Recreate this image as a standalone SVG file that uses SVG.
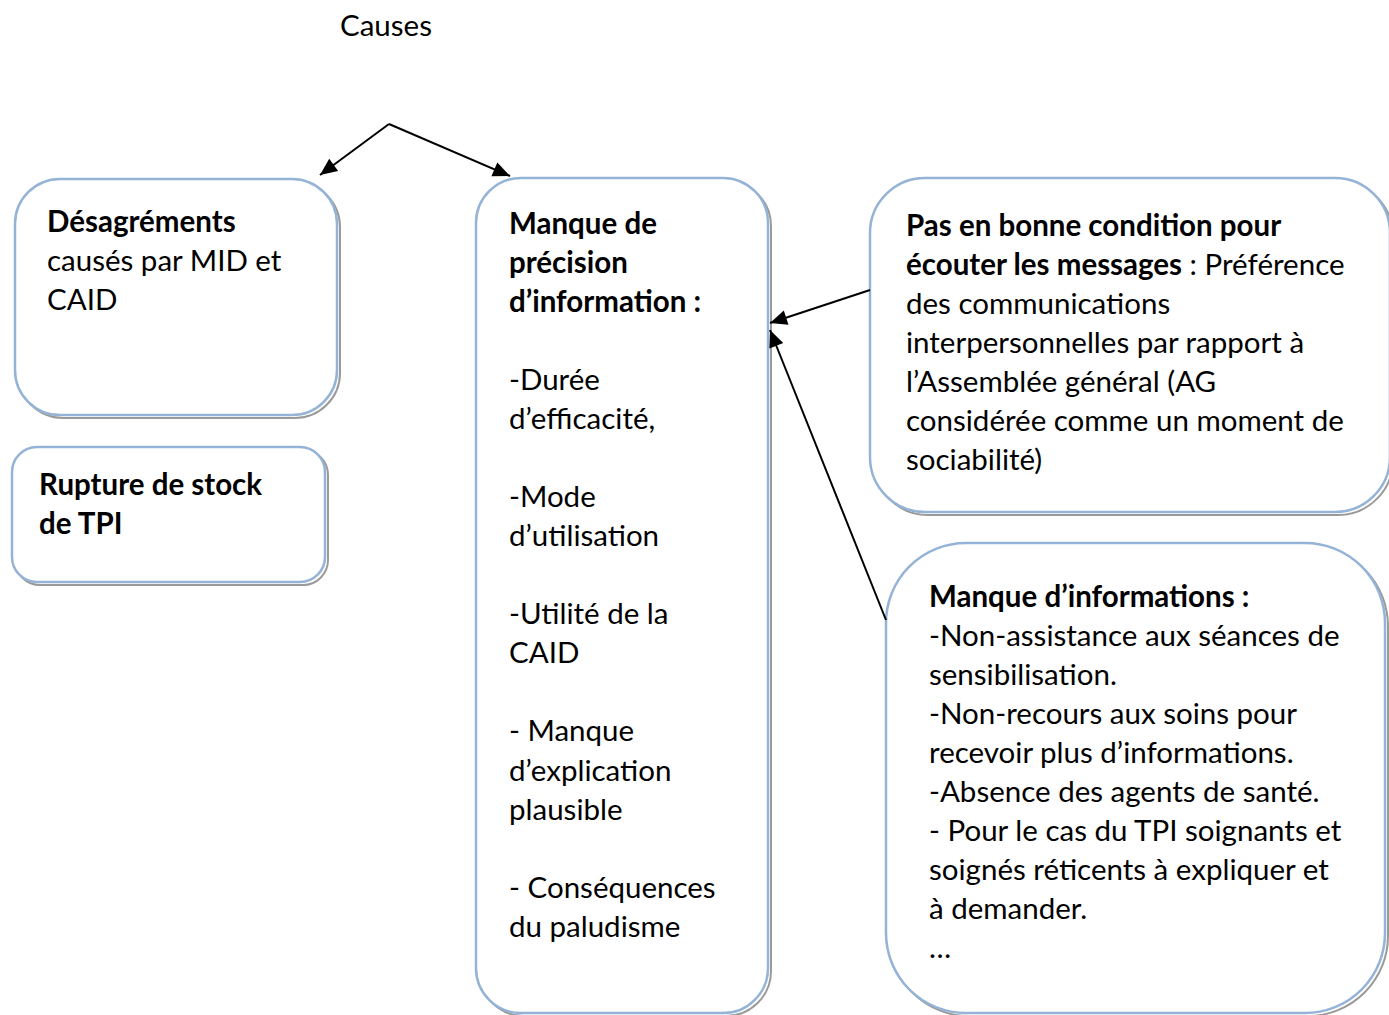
<svg xmlns="http://www.w3.org/2000/svg" width="1389" height="1015" viewBox="0 0 1389 1015">
<defs>
<style>
.box{fill:#fff;stroke:#95b3d7;stroke-width:2.5}
.sh{fill:none;stroke:#9a9a9a;stroke-width:2}
text{font-family:Lato,"Liberation Sans",sans-serif;font-size:29.5px;fill:#000}
.b{font-weight:bold}
.con{stroke:#000;stroke-width:2;fill:none;marker-end:url(#ah)}
</style>
<marker id="ah" markerUnits="userSpaceOnUse" markerWidth="1" markerHeight="1" refX="0" refY="0" orient="auto" overflow="visible">
<path d="M-17,-7.5 L0,0 L-17,7.5 z" fill="#000"/>
</marker>
</defs>
<rect width="1389" height="1015" fill="#fff"/>
<text x="340" y="36">Causes</text>

<g id="node-desagrements">
<rect class="sh" x="18" y="182" width="322" height="236" rx="45"/>
<rect class="box" x="15" y="179" width="322" height="236" rx="45"/>
<text x="47" y="232" class="b">Désagréments</text>
<text x="47" y="271">causés par MID et</text>
<text x="47" y="310">CAID</text>
</g>

<g id="node-rupture">
<rect class="sh" x="15" y="450" width="313" height="135" rx="25"/>
<rect class="box" x="12" y="447" width="313" height="135" rx="25"/>
<text x="39" y="495" class="b">Rupture de stock</text>
<text x="39" y="534" class="b">de TPI</text>
</g>

<g id="node-precision">
<rect class="sh" x="479" y="181" width="292" height="835" rx="45"/>
<rect class="box" x="476" y="178" width="292" height="835" rx="45"/>
<text x="509" y="234" class="b">Manque de</text>
<text x="509" y="273" class="b">précision</text>
<text x="509" y="312" class="b">d’information :</text>
<text x="509" y="390">-Durée</text>
<text x="509" y="429">d’efficacité,</text>
<text x="509" y="507">-Mode</text>
<text x="509" y="546">d’utilisation</text>
<text x="509" y="624">-Utilité de la</text>
<text x="509" y="663">CAID</text>
<text x="509" y="741">- Manque</text>
<text x="509" y="781">d’explication</text>
<text x="509" y="820">plausible</text>
<text x="509" y="898">- Conséquences</text>
<text x="509" y="937">du paludisme</text>
</g>

<g id="node-condition">
<rect class="sh" x="873" y="181" width="520" height="334" rx="55"/>
<rect class="box" x="870" y="178" width="520" height="334" rx="55"/>
<text x="906" y="236" class="b">Pas en bonne condition pour</text>
<text x="906" y="275"><tspan class="b">écouter les messages</tspan> : Préférence</text>
<text x="906" y="314">des communications</text>
<text x="906" y="353">interpersonnelles par rapport à</text>
<text x="906" y="392">l’Assemblée général (AG</text>
<text x="906" y="431">considérée comme un moment de</text>
<text x="906" y="470">sociabilité)</text>
</g>

<g id="node-informations">
<rect class="sh" x="889" y="546" width="499" height="470" rx="80"/>
<rect class="box" x="886" y="543" width="499" height="470" rx="80"/>
<text x="929" y="607" class="b">Manque d’informations :</text>
<text x="929" y="646">-Non-assistance aux séances de</text>
<text x="929" y="685">sensibilisation.</text>
<text x="929" y="724">-Non-recours aux soins pour</text>
<text x="929" y="763">recevoir plus d’informations.</text>
<text x="929" y="802">-Absence des agents de santé.</text>
<text x="929" y="841">- Pour le cas du TPI soignants et</text>
<text x="929" y="880">soignés réticents à expliquer et</text>
<text x="929" y="919">à demander.</text>
<text x="929" y="958">…</text>
</g>

<g id="connectors">
<path class="con" d="M389,124 L320,175"/>
<path class="con" d="M389,124 L510,176"/>
<path class="con" d="M870,290 L770,323"/>
<path class="con" d="M886,620 L770,330"/>
</g>
</svg>
